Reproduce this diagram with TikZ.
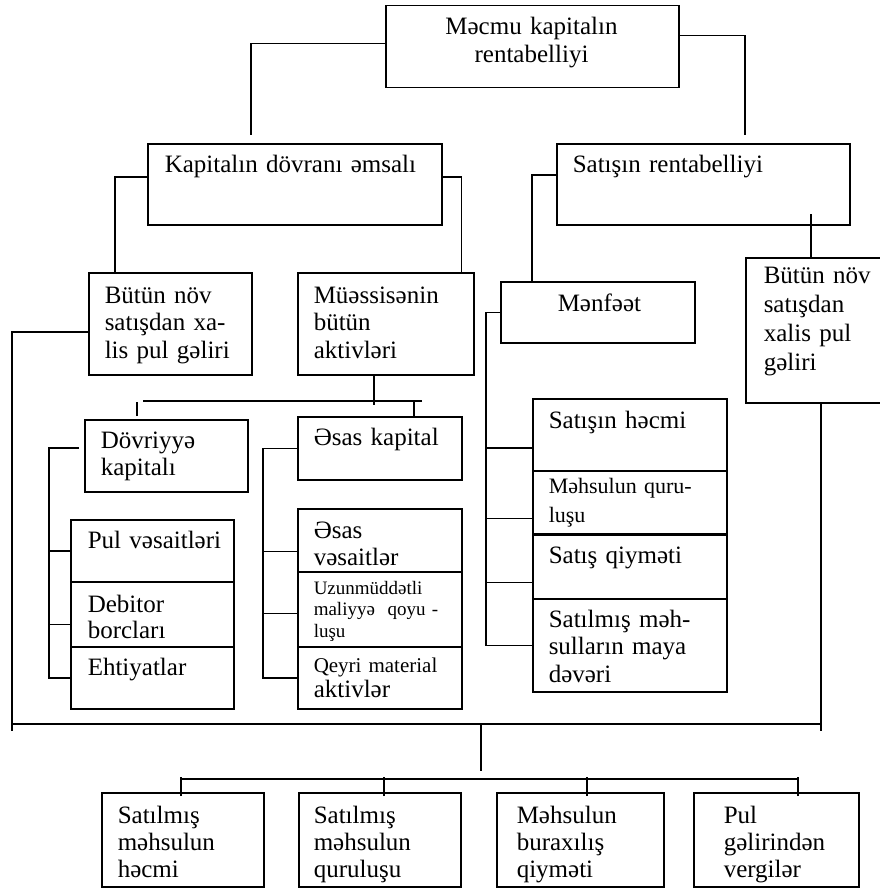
\documentclass[tikz,border=0pt]{standalone}
\usepackage{fontspec}
\setmainfont{Liberation Serif}
\newcommand{\fz}{\fontsize{25}{27.5}\selectfont}
\tikzset{
  blk/.style={draw, line width=1.5pt, anchor=north west, inner sep=0pt},
  lbl/.style={anchor=base west, inner sep=0pt, text width=300pt, align=left, font=\fz},
}

\begin{document}
\begin{tikzpicture}[x=1pt,y=-1pt, line width=1.5pt]
	\useasboundingbox (0,0) rectangle (879,888);
	% boxes
	\node[blk, minimum width=293pt, minimum height=82pt] (mk) at (385,5) {};
	\node[blk, minimum width=294pt, minimum height=81pt] (kd) at (147,143) {};
	\node[blk, minimum width=293pt, minimum height=81pt] (sr) at (556,143) {};
	\node[blk, minimum width=163pt, minimum height=102pt] (bn1) at (88,272) {};
	\node[blk, minimum width=176pt, minimum height=102pt] (ma) at (297,272) {};
	\node[blk, minimum width=194pt, minimum height=61pt] (mf) at (500,281) {};
	\node[blk, minimum width=140pt, minimum height=145pt] (bn2) at (745,257) {};
	\node[blk, minimum width=163pt, minimum height=72pt] (dk) at (84,419) {};
	\node[blk, minimum width=164pt, minimum height=63pt] (ek) at (297,416) {};
	\node[blk, minimum width=163pt, minimum height=62pt] (pv) at (70,519) {};
	\node[blk, minimum width=163pt, minimum height=65pt] (db) at (70,581) {};
	\node[blk, minimum width=163pt, minimum height=62pt] (eh) at (70,646) {};
	\node[blk, minimum width=164pt, minimum height=63pt] (ev) at (297,508) {};
	\node[blk, minimum width=164pt, minimum height=75pt] (uz) at (297,571) {};
	\node[blk, minimum width=164pt, minimum height=62pt] (qm) at (297,646) {};
	\node[blk, minimum width=194pt, minimum height=72pt] (sh) at (532,398) {};
	\node[blk, minimum width=194pt, minimum height=63pt] (mq) at (532,470) {};
	\node[blk, minimum width=194pt, minimum height=65pt] (sq) at (532,533) {};
	\node[blk, minimum width=194pt, minimum height=93pt] (sm) at (532,598) {};
	\node[blk, minimum width=162pt, minimum height=94pt] (b1) at (101,792) {};
	\node[blk, minimum width=162pt, minimum height=94pt] (b2) at (298,792) {};
	\node[blk, minimum width=167pt, minimum height=94pt] (b3) at (496,792) {};
	\node[blk, minimum width=165pt, minimum height=94pt] (b4) at (693,792) {};
	\draw[line width=2.6pt] (mq.south west) -- (mq.south east);
	% texts
	\node[lbl, anchor=base, text width=280pt, align=center] (mk-t) at (531.5,35) {Məcmu kapitalın\\rentabelliyi};
	\node[lbl] (kd-t) at (164,172) {Kapitalın dövranı əmsalı};
	\node[lbl] (sr-t) at (572,172) {Satışın rentabelliyi};
	\node[lbl] (bn1-t) at (104,303) {Bütün növ\\satışdan xa-\\lis pul gəliri};
	\node[lbl] (ma-t) at (313,303) {Müəssisənin\\bütün\\aktivləri};
	\node[lbl] (mf-t) at (557,311) {Mənfəət};
	\node[lbl, font=\fontsize{25}{29}\selectfont] (bn2-t) at (763,283) {Bütün növ\\satışdan\\xalis pul\\gəliri};
	\node[lbl] (dk-t) at (100,448) {Dövriyyə\\kapitalı};
	\node[lbl] (ek-t) at (313,445) {Əsas kapital};
	\node[lbl] (pv-t) at (87,548) {Pul vəsaitləri};
	\node[lbl, font=\fontsize{25}{26}\selectfont] (db-t) at (87,612) {Debitor\\borcları};
	\node[lbl] (eh-t) at (87,675) {Ehtiyatlar};
	\node[lbl, font=\fontsize{25}{27}\selectfont] (ev-t) at (313,538) {Əsas\\vəsaitlər};
	\node[lbl, font=\fontsize{19}{21.5}\selectfont] (uz-t) at (313,594) {Uzunmüddətli\\maliyyə\ \ qoyu -\\luşu};
	\node[lbl, font=\fontsize{21}{25}\selectfont] (qm-t) at (313,672) {Qeyri material\\{\fz aktivlər}};
	\node[lbl] (sh-t) at (548,428) {Satışın həcmi};
	\node[lbl, font=\fontsize{22}{29}\selectfont] (mq-t) at (548,493) {Məhsulun quru-\\luşu};
	\node[lbl] (sq-t) at (548,563) {Satış qiyməti};
	\node[lbl] (sm-t) at (548,627) {Satılmış məh-\\sulların maya\\dəvəri};
	\node[lbl, font=\fontsize{25}{27}\selectfont] (b1-t) at (117,823) {Satılmış\\məhsulun\\həcmi};
	\node[lbl, font=\fontsize{25}{27}\selectfont] (b2-t) at (313,823) {Satılmış\\məhsulun\\quruluşu};
	\node[lbl, font=\fontsize{25}{27}\selectfont] (b3-t) at (516,823) {Məhsulun\\buraxılış\\qiyməti};
	\node[lbl, font=\fontsize{25}{27}\selectfont] (b4-t) at (723,823) {Pul\\gəlirindən\\vergilər};
	% free ends
	\coordinate (c1) at (251,135);
	\coordinate (c2) at (745,135);
	\coordinate (bl) at (12,731);
	\coordinate (br) at (821,731);
	\coordinate (st) at (481,724);
	% top level
	\draw ([yshift=3pt]mk.west) -| (c1);
	\draw ([yshift=11pt]mk.east) -| (c2);
	\draw ([yshift=7.5pt]kd.west) -| ([xshift=27pt]bn1.north west);
	\draw ([yshift=7.5pt]kd.east) -| ([xshift=-13pt]ma.north east);
	\draw ([yshift=9.5pt]sr.west) -| ([xshift=32pt]mf.north west);
	\draw ([xshift=66pt]bn2.north west) -- ++(0,-43);
	% assets
	\draw ([xshift=77pt]ma.south west) -- ++(0,29);
	\draw ([xshift=125pt,yshift=15pt]ek.north west) -- ([xshift=59pt,yshift=18pt]dk.north west);
	\draw ([xshift=117pt]ek.north west) -- ++(0,-15);
	\draw ([xshift=53pt,yshift=3pt]dk.north west) -- ++(0,-14);
	\draw ([xshift=-5pt,yshift=8pt]dk.west) -| ([xshift=-21pt]eh.west) -- (eh.west);
	\draw (pv.west) -- ++(-21,0);
	\draw ([yshift=-10pt]db.west) -- ++(-21,0);
	\draw (ek.west) -| ([xshift=-34pt]qm.west) -- (qm.west);
	\draw ([yshift=-11pt]ev.west) -- ++(-34,0);
	\draw ([yshift=-4pt]uz.west) -- ++(-34,0);
	% profit
	\draw (mf.west) -| ([xshift=-46pt]sm.west) -- (sm.west);
	\draw ([yshift=-13pt]sh.west) -- ++(-46,0);
	\draw ([yshift=-16pt]mq.west) -- ++(-46,0);
	\draw ([yshift=-16pt]sq.west) -- ++(-46,0);
	% bottom
	\draw ([yshift=-8pt]bn1.west) -| (bl);
	\draw ([xshift=76pt]bn2.south west) -- (br);
	\draw ([yshift=7pt]bl) -- ([yshift=7pt]br);
	\draw (st) -- ++(0,47);
	\draw ([xshift=80pt,yshift=13pt]b1.north west) -- ([xshift=105pt,yshift=13pt]b4.north west);
	\draw ([xshift=80pt,yshift=-4pt]b1.north west) -- ++(0,-19);
	\draw ([xshift=86pt,yshift=-4pt]b2.north west) -- ++(0,-19);
	\draw ([xshift=91pt,yshift=-4pt]b3.north west) -- ++(0,-19);
	\draw ([xshift=105pt,yshift=-4pt]b4.north west) -- ++(0,-19);
\end{tikzpicture}
\end{document}
